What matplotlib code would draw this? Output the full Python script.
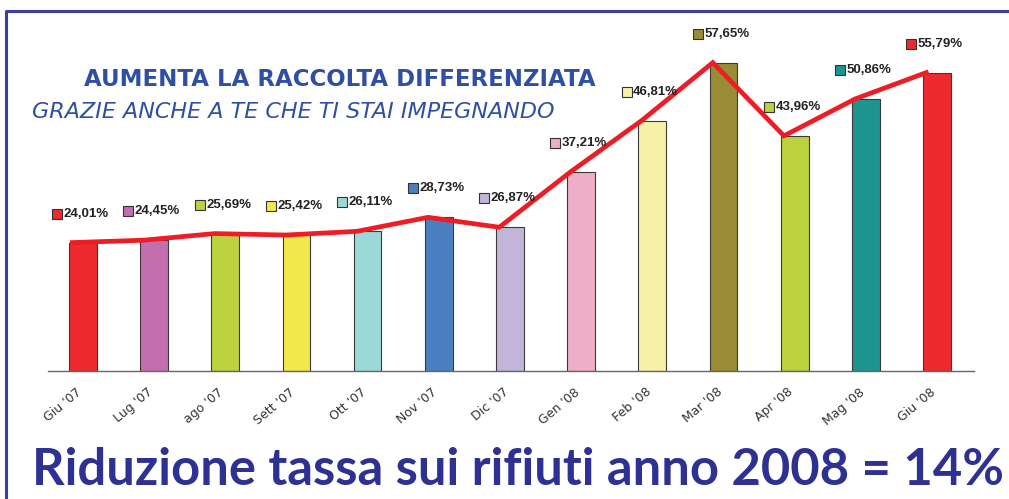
import matplotlib
matplotlib.use("Agg")
import matplotlib.pyplot as plt
from matplotlib.lines import Line2D
from matplotlib.transforms import ScaledTranslation

months = ["Giu '07", "Lug '07", "ago '07", "Sett '07", "Ott '07", "Nov '07", "Dic '07",
          "Gen '08", "Feb '08", "Mar '08", "Apr '08", "Mag '08", "Giu '08"]
values = [24.01, 24.45, 25.69, 25.42, 26.11, 28.73, 26.87,
          37.21, 46.81, 57.65, 43.96, 50.86, 55.79]
value_labels = ["24,01%", "24,45%", "25,69%", "25,42%", "26,11%", "28,73%", "26,87%",
                "37,21%", "46,81%", "57,65%", "43,96%", "50,86%", "55,79%"]
bar_colors = ["#EE2A2F", "#C36EAE", "#BCD33F", "#F3E94A", "#9DD8D8", "#4A7FC1", "#C3B4D9",
              "#EDAFC8", "#F7F1A7", "#9A8C35", "#BBD13E", "#1E948E", "#EE2A2F"]

title = "AUMENTA LA RACCOLTA DIFFERENZIATA"
subtitle = "GRAZIE ANCHE A TE CHE TI STAI IMPEGNANDO"
footer = "Riduzione tassa sui rifiuti anno 2008 = 14%"

W, H = 1009, 499
fig = plt.figure(figsize=(W / 100, H / 100), dpi=100)
fig.patch.set_facecolor("white")

ax = fig.add_axes([48 / W, (H - 371) / H, 926 / W, 360 / H])
x = list(range(len(months)))
ax.bar(x, values, width=0.39, color=bar_colors, edgecolor="#3a3a3a", linewidth=0.8, zorder=2)
ax.plot([i - 0.15 for i in x], values, color="#EE1C25", lw=3.4, zorder=3,
        solid_joinstyle="miter")

for i, (v, lab, c) in enumerate(zip(values, value_labels, bar_colors)):
    ax.plot(i - 0.36, v + 5.4, marker="s", ms=6.5, color=c, mec="#333333", mew=0.8,
            zorder=4, clip_on=False)
    ax.text(i - 0.27, v + 5.4, lab, ha="left", va="center", fontsize=9.5,
            fontweight="bold", family="Liberation Sans", color="#222222", zorder=4)

ax.set_xlim(-0.49, 12.52)
ax.set_ylim(0, 67.3)
ax.set_yticks([])
ax.set_xticks(x)
ax.set_xticklabels(months, rotation=40, ha="right", va="center", rotation_mode="anchor",
                   fontsize=9, family="DejaVu Sans", color="#333333")
ax.tick_params(axis="x", length=0, pad=14)
offset = ScaledTranslation(-3 / 100, 0, fig.dpi_scale_trans)
for lbl in ax.get_xticklabels():
    lbl.set_transform(lbl.get_transform() + offset)
for s in ["top", "right", "left"]:
    ax.spines[s].set_visible(False)
ax.spines["bottom"].set_color("#666666")
ax.spines["bottom"].set_linewidth(1.0)
ax.patch.set_alpha(0)

fig.text(340 / W, 1 - 80 / H, title, ha="center", va="center", fontsize=16.5,
         fontweight="bold", family="DejaVu Sans", color="#2E4FA3")
fig.text(32 / W, 1 - 112 / H, subtitle, ha="left", va="center", fontsize=16,
         style="italic", family="DejaVu Sans", color="#2E4FA3")
fig.text(32 / W, 1 - 485 / H, footer, ha="left", va="baseline", fontsize=36.5,
         fontweight="bold", family="Lato", color="#2E3192")

fig.add_artist(Line2D([6 / W, 6 / W, 1.0], [0, 1 - 11 / H, 1 - 11 / H],
                      transform=fig.transFigure, color="#3B3DA0", lw=2.2))

fig.savefig("out.png", dpi=100)
